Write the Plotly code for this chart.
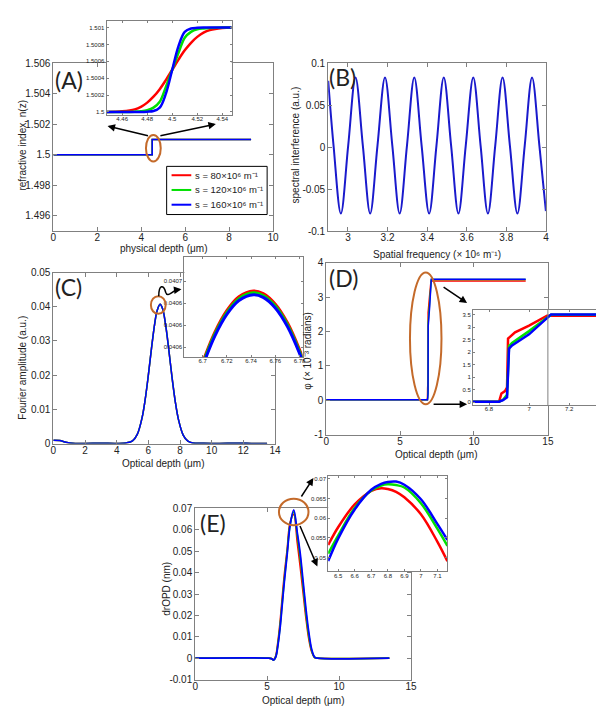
import plotly.graph_objects as go

W, H = 604, 708


def fx(x):
    return x / W


def fy(y):
    return 1 - y / H


# ---------------- data ----------------
# (A) refractive index step
a_depth = [0, 4.5, 4.5, 9]
a_index = [1.5, 1.5, 1.501, 1.501]
# (A) inset, zoom on the step for the three slopes
a_zoom_depth = [4.4475, 4.46, 4.47, 4.475, 4.48, 4.485, 4.49, 4.495, 4.5,
                4.505, 4.51, 4.515, 4.52, 4.525, 4.53, 4.54, 4.5475]
a_zoom_s80 = [1.5, 1.500008, 1.50003, 1.50006, 1.50011, 1.50018, 1.50027, 1.50038, 1.5005,
              1.50062, 1.50073, 1.50082, 1.50089, 1.50094, 1.50097, 1.500995, 1.501]
a_zoom_s120 = [1.5, 1.5, 1.500003, 1.500008, 1.50002, 1.50005, 1.50012, 1.5003, 1.5005,
               1.5007, 1.50088, 1.50095, 1.50098, 1.50099, 1.500995, 1.501, 1.501]
a_zoom_s160 = [1.5, 1.5, 1.5, 1.5, 1.500003, 1.50001, 1.50005, 1.50022, 1.5005,
               1.50078, 1.50095, 1.50099, 1.500997, 1.501, 1.501, 1.501, 1.501]
legend_names = ["s = 80×10⁶ m⁻¹", "s = 120×10⁶ m⁻¹", "s = 160×10⁶ m⁻¹"]

# (B) spectral interference
b_freq = [2.9, 2.927, 2.964, 3.001, 3.038, 3.075, 3.112, 3.149, 3.187, 3.224, 3.261,
          3.298, 3.335, 3.372, 3.410, 3.447, 3.484, 3.521, 3.558, 3.595, 3.633, 3.670,
          3.707, 3.744, 3.781, 3.818, 3.856, 3.893, 3.930, 3.967, 4.0]
b_signal = [0.079, 0.002, -0.079, 0.002, 0.083, 0.002, -0.079, 0.002, 0.083, 0.002, -0.079,
            0.002, 0.083, 0.002, -0.079, 0.002, 0.083, 0.002, -0.079, 0.002, 0.083, 0.002,
            -0.079, 0.002, 0.083, 0.002, -0.079, 0.002, 0.083, 0.002, -0.076]

# (C) Fourier amplitude
c_depth = [0, 0.4, 0.8, 1.2, 2, 3, 4, 4.6, 5.0, 5.3, 5.6, 5.8, 6.0, 6.2, 6.4, 6.55, 6.74,
           6.9, 7.1, 7.3, 7.5, 7.7, 7.9, 8.2, 8.5, 8.8, 9.5, 10.5, 11.5, 12.5, 13.5]
c_amp = [0.001, 0.0009, 0.0004, 0.0001, 0.00005, 0.0001, 0.00005, 0.0002, 0.0008, 0.0027,
         0.0075, 0.0129, 0.0200, 0.0279, 0.0350, 0.0388, 0.0407, 0.0394, 0.0344, 0.0271,
         0.0192, 0.0123, 0.0071, 0.0025, 0.0007, 0.0002, 0.0001, 0.00005, 0.0001, 0.00005, 0.0]
# (C) inset, top of the peak
c_zoom_depth = [6.695, 6.70, 6.71, 6.72, 6.73, 6.742, 6.75, 6.76, 6.77, 6.78, 6.785]
c_zoom_s80 = [0.0406095, 0.0406259, 0.0406532, 0.0406731, 0.0406857, 0.040691,
              0.0406886, 0.040679, 0.0406621, 0.0406377, 0.0406228]
c_zoom_s120 = [0.0406078, 0.0406242, 0.0406515, 0.0406714, 0.040684, 0.0406893,
               0.0406869, 0.0406773, 0.0406604, 0.040636, 0.0406211]
c_zoom_s160 = [0.0406061, 0.0406225, 0.0406498, 0.0406697, 0.0406823, 0.0406876,
               0.0406852, 0.0406756, 0.0406587, 0.0406343, 0.0406194]

# (D) phase
d_depth_s80 = [0, 6.85, 6.862, 6.88, 6.89, 6.895, 6.93, 7.0, 7.09, 13.5]
d_phase_s80 = [0.02, 0.02, 0.35, 0.45, 0.6, 2.55, 2.8, 3.07, 3.47, 3.47]
d_depth_s120 = [0, 6.85, 6.87, 6.89, 6.90, 6.915, 7.0, 7.11, 13.5]
d_phase_s120 = [0.02, 0.02, 0.1, 0.3, 2.25, 2.38, 2.85, 3.51, 3.51]
d_depth_s160 = [0, 6.85, 6.87, 6.89, 6.90, 6.915, 7.0, 7.11, 13.5]
d_phase_s160 = [0.02, 0.02, 0.08, 0.2, 2.15, 2.28, 2.72, 3.52, 3.52]

# (E) drOPD
e_depth = [0, 5.0, 5.3, 5.45, 5.6, 5.75, 5.9, 6.05, 6.2, 6.4, 6.6, 6.85, 7.1, 7.3,
           7.5, 7.7, 7.9, 8.1, 8.3, 8.5, 13.5]
e_s80 = [0, 0, -0.0002, -0.0008, 0.001, 0.0075, 0.0165, 0.028, 0.039, 0.051, 0.0635,
         0.0672, 0.054, 0.043, 0.031, 0.019, 0.009, 0.003, 0.0003, 0, 0]
e_s120 = [0, 0, -0.0002, -0.0009, 0.0007, 0.0065, 0.015, 0.026, 0.037, 0.050, 0.0626,
          0.0684, 0.0573, 0.047, 0.034, 0.021, 0.0105, 0.0035, 0.0004, 0, 0]
e_s160 = [0, 0, -0.0002, -0.0009, 0.0005, 0.006, 0.014, 0.025, 0.036, 0.049, 0.0622,
          0.0693, 0.0585, 0.049, 0.036, 0.023, 0.012, 0.004, 0.0005, 0, 0]
# (E) inset
e_zoom_depth = [6.44, 6.5, 6.6, 6.7, 6.76, 6.8, 6.85, 6.9, 7.0, 7.1, 7.16]
e_zoom_s80 = [0.0532, 0.0577, 0.0635, 0.0669, 0.0676, 0.0674, 0.0667, 0.0653, 0.0610, 0.0540, 0.0491]
e_zoom_s120 = [0.0510, 0.0556, 0.0626, 0.0670, 0.0683, 0.0686, 0.0684, 0.0678, 0.0638, 0.0573, 0.0530]
e_zoom_s160 = [0.0491, 0.0548, 0.0622, 0.0672, 0.0687, 0.0692, 0.0693, 0.0685, 0.0648, 0.0585, 0.0545]

colors = ["#ff0000", "#00e000", "#0000ff"]
orange = "#c46a2a"
axis_grey = "#808080"

fig = go.Figure()


def add(xs, ys, n, color, width=1.5, shape="linear"):
    fig.add_trace(go.Scatter(
        x=xs, y=ys, mode="lines", showlegend=False,
        line=dict(color=color, width=width, shape=shape),
        xaxis="x" if n == 1 else "x%d" % n,
        yaxis="y" if n == 1 else "y%d" % n,
    ))


# (A)
for c in colors:
    add(a_depth, a_index, 1, c, 1.5)
for ys, c in zip([a_zoom_s80, a_zoom_s120, a_zoom_s160], colors):
    add(a_zoom_depth, ys, 2, c, 2.5, "spline")
# (B)
add(b_freq, b_signal, 3, "#1a1acc", 2, "spline")
# (C)
for c in colors:
    add(c_depth, c_amp, 4, c, 1.5, "spline")
for ys, c in zip([c_zoom_s80, c_zoom_s120, c_zoom_s160], colors):
    add(c_zoom_depth, ys, 5, c, 3, "spline")
# (D)
for xs, ys, c in zip([d_depth_s80, d_depth_s120, d_depth_s160],
                     [d_phase_s80, d_phase_s120, d_phase_s160], colors):
    add(xs, ys, 6, c, 1.5)
    add(xs, ys, 7, c, 2.5)
# (E)
for ys, c in zip([e_s80, e_s120, e_s160], colors):
    add(e_depth, ys, 8, c, 1.8, "spline")
for ys, c in zip([e_zoom_s80, e_zoom_s120, e_zoom_s160], colors):
    add(e_zoom_depth, ys, 9, c, 2.5, "spline")


def axis(dom, rng, vals, text=None, size=10):
    d = dict(domain=dom, range=rng, tickvals=vals, showline=True, mirror="ticks",
             linecolor=axis_grey, linewidth=1, ticks="inside", ticklen=4,
             tickcolor=axis_grey, showgrid=False, zeroline=False,
             tickfont=dict(size=size, color="#222", family="Liberation Sans"))
    if text is not None:
        d["ticktext"] = text
    return d


def xd(a, b):
    return [fx(a), fx(b)]


def yd(a, b):
    return [fy(b), fy(a)]


# panel boxes in pixels: (x0, x1, y0, y1)
boxes = {
    1: (43, 266, 50, 221),
    2: (97, 224, 7, 103),
    3: (322, 543, 50, 221),
    4: (43, 268, 263, 437),
    5: (176, 296, 247, 349),
    6: (320, 545, 253, 428),
    7: (469, 597, 301, 398),
    8: (187, 406, 503, 677),
    9: (322, 443, 470, 567),
}

xspec = {
    1: ([0, 10], [0, 2, 4, 6, 8, 10], None, 10),
    2: ([4.4475, 4.5475], [4.46, 4.48, 4.5, 4.52, 4.54], ["4.46", "4.48", "4.5", "4.52", "4.54"], 6),
    3: ([2.9, 4.0], [3, 3.2, 3.4, 3.6, 3.8, 4], ["3", "3.2", "3.4", "3.6", "3.8", "4"], 10),
    4: ([0, 14], [0, 2, 4, 6, 8, 10, 12, 14], None, 10),
    5: ([6.685, 6.7825], [6.7, 6.72, 6.74, 6.76, 6.78], ["6.7", "6.72", "6.74", "6.76", "6.78"], 6),
    6: ([0, 15], [0, 5, 10, 15], None, 10),
    7: ([6.72, 7.35], [6.8, 7, 7.2], ["6.8", "7", "7.2"], 6),
    8: ([0, 15], [0, 5, 10, 15], None, 10),
    9: ([6.44, 7.16], [6.5, 6.6, 6.7, 6.8, 6.9, 7, 7.1], ["6.5", "6.6", "6.7", "6.8", "6.9", "7", "7.1"], 6),
}
yspec = {
    1: ([1.495, 1.506], [1.496, 1.498, 1.5, 1.502, 1.504, 1.506],
        ["1.496", "1.498", "1.5", "1.502", "1.504", "1.506"], 10),
    2: ([1.49996, 1.50108], [1.5, 1.5002, 1.5004, 1.5006, 1.5008, 1.501],
        ["1.5", "1.5002", "1.5004", "1.5006", "1.5008", "1.501"], 6),
    3: ([-0.1, 0.1], [-0.1, -0.05, 0, 0.05, 0.1], ["-0.1", "-0.05", "0", "0.05", "0.1"], 10),
    4: ([0, 0.05], [0, 0.01, 0.02, 0.03, 0.04, 0.05], ["0", "0.01", "0.02", "0.03", "0.04", "0.05"], 10),
    5: ([0.040631, 0.040722], [0.04064, 0.04066, 0.04068, 0.0407],
        ["0.0406", "0.0406", "0.0406", "0.0407"], 6),
    6: ([-1, 4], [-1, 0, 1, 2, 3, 4], ["-1", "0", "1", "2", "3", "4"], 10),
    7: ([-0.12, 3.7], [0, 0.5, 1, 1.5, 2, 2.5, 3, 3.5], None, 6),
    8: ([-0.01, 0.07], [-0.01, 0, 0.01, 0.02, 0.03, 0.04, 0.05, 0.06, 0.07],
        ["-0.01", "0", "0.01", "0.02", "0.03", "0.04", "0.05", "0.06", "0.07"], 10),
    9: ([0.0465, 0.0707], [0.05, 0.055, 0.06, 0.065, 0.07], ["0.05", "0.055", "0.06", "0.065", "0.07"], 6),
}

layout_axes = {}
for n, (x0, x1, y0, y1) in boxes.items():
    sfx = "" if n == 1 else str(n)
    xr, xv, xt, xs = xspec[n]
    yr, yv, yt, ys = yspec[n]
    xa = axis(xd(x0, x1), xr, xv, xt, xs)
    ya = axis(yd(y0, y1), yr, yv, yt, ys)
    xa["anchor"] = "y" + sfx
    ya["anchor"] = "x" + sfx
    if n in (2, 5, 7, 9):
        xa["ticklen"] = 2
        ya["ticklen"] = 2
        xa["ticklabelstandoff"] = -2
    else:
        xa["ticklabelstandoff"] = -3
    layout_axes["xaxis" + sfx] = xa
    layout_axes["yaxis" + sfx] = ya

annotations = []


def label(text, x, y, size=10, angle=0, family="Liberation Sans", anchor="center"):
    annotations.append(dict(text=text, x=fx(x), y=fy(y), xref="paper", yref="paper",
                            xanchor=anchor, yanchor="middle",
                            showarrow=False, textangle=angle,
                            font=dict(size=size, color="#222", family=family)))


for t, x, y in [("(A)", 59, 67), ("(B)", 337, 64), ("(C)", 58, 278), ("(D)", 338, 269), ("(E)", 205, 518)]:
    label(t, x, y, 23, family="Lato")

label("refractive index, n(z)", 12, 133, angle=-90)
label("physical depth (μm)", 155, 239)
label("spectral interference (a.u.)", 289, 133, angle=-90)
label("Spatial frequency (× 10⁶ m⁻¹)", 432, 245)
label("Fourier amplitude (a.u.)", 12, 360, angle=-90)
label("Optical depth (μm)", 154, 457)
label("φ (× 10⁻³ radians)", 301, 343, angle=-90)
label("Optical depth (μm)", 431, 448)
label("drOPD (nm)", 157, 585, angle=-90)
label("Optical depth (μm)", 296, 698)


def arrow(tail, head):
    annotations.append(dict(x=fx(head[0]), y=fy(head[1]), xref="paper", yref="paper",
                            ax=tail[0] - head[0], ay=tail[1] - head[1], text="",
                            showarrow=True, arrowhead=2, arrowsize=1, arrowwidth=1.5,
                            arrowcolor="black"))


arrow((140, 124), (98, 114))
arrow((151, 124), (208, 112))
arrow((166, 281), (173, 280))
arrow((438, 277), (463, 294))
arrow((428, 397), (463, 397))
arrow((294, 492), (307, 472))
arrow((293, 520), (311, 562))

shapes = []
for x0, x1, y0, y1 in [(137, 152, 123, 150), (142, 157, 287, 305),
                       (405, 437, 263, 397), (272, 302, 493, 520)]:
    shapes.append(dict(type="circle", xref="paper", yref="paper",
                       x0=fx(x0), x1=fx(x1), y0=fy(y1), y1=fy(y0),
                       line=dict(color=orange, width=2)))

squiggle = "M %f %f C %f %f %f %f %f %f C %f %f %f %f %f %f" % (
    fx(150), fy(287), fx(150), fy(275), fx(155), fy(275), fx(157), fy(283),
    fx(159), fy(289), fx(163), fy(282), fx(168), fy(281))
shapes.append(dict(type="path", xref="paper", yref="paper", path=squiggle,
                   line=dict(color="black", width=1.5)))
# main (D) frame shows through its inset
shapes.append(dict(type="line", xref="paper", yref="paper", x0=fx(545), x1=fx(545),
                   y0=fy(398), y1=fy(301), line=dict(color=axis_grey, width=1)))

# legend of panel (A), drawn as a boxed key
shapes.append(dict(type="rect", xref="paper", yref="paper", x0=fx(158), x1=fx(260),
                   y0=fy(204), y1=fy(155), fillcolor="white",
                   line=dict(color="black", width=1)))
for i, (name, c) in enumerate(zip(legend_names, colors)):
    row = 164 + 15 * i
    shapes.append(dict(type="line", xref="paper", yref="paper", x0=fx(163), x1=fx(183),
                       y0=fy(row), y1=fy(row), line=dict(color=c, width=2)))
    label(name, 185, row, size=9.5, anchor="left")

fig.update_layout(
    width=W, height=H,
    margin=dict(l=0, r=0, t=0, b=0),
    paper_bgcolor="white", plot_bgcolor="white",
    showlegend=False,
    annotations=annotations,
    shapes=shapes,
    **layout_axes,
)

fig.write_html("out.html")
